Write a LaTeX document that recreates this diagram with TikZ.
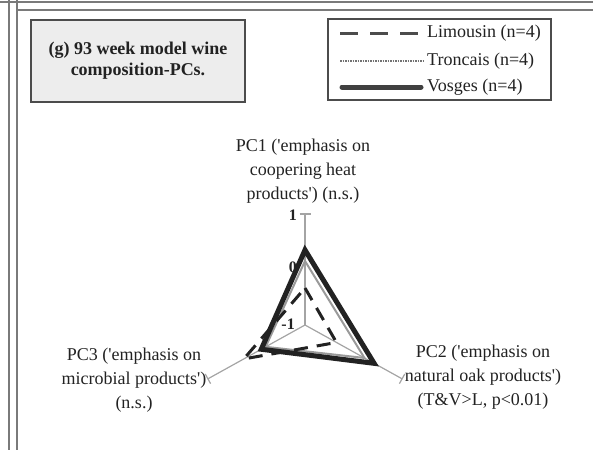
\documentclass[tikz,border=0pt]{standalone}
\usepackage{fontspec}
\setmainfont{Liberation Serif}
\usetikzlibrary{positioning,calc}
\definecolor{cfrm}{HTML}{7A7A7A}
\definecolor{cink}{HTML}{222222}
\definecolor{ctro}{HTML}{9A9A9A}
\definecolor{cbox}{HTML}{EDEDED}

\begin{document}
\begin{tikzpicture}[
  x=1pt, y=-1pt,
  font=\fontsize{18}{24}\selectfont,
  text=cink,
  frm/.style={draw=cfrm, line width=1.3pt},
  panel/.style={draw=black!70, line width=1.2pt, inner sep=0pt},
  lgtxt/.style={anchor=west, inner sep=0pt},
  pclab/.style={align=center, inner sep=0pt},
  tick/.style={font=\fontsize{16}{16}\selectfont\bfseries, inner sep=0pt},
  axis/.style={draw=ctro!90, line width=1.2pt},
  lim/.style={draw=cink, line width=3pt, dash pattern=on 14pt off 9pt},
  tro/.style={draw=ctro, line width=2pt},
  vos/.style={draw=cink, line width=5pt, line join=miter},
]
\useasboundingbox (0,0) rectangle (593,450);

% =================== frame ===================
\draw[frm] (9,0) -- (9,450);
\draw[frm] (17,0) -- (17,450);
\draw[frm] (0,2) -- (593,2);
\draw[frm] (17,10) -- (593,10);

% =================== title & legend ===================
\node[panel, fill=cbox, minimum width=214pt, minimum height=82pt, align=center,
  font=\fontsize{18}{21}\selectfont\bfseries] (ttl) at (138,61)
  {(g) 93 week model wine\\composition-PCs.};
\node[panel, fill=white, minimum width=223pt, minimum height=81pt] (lgd) at (439.5,59.5) {};
\node[lgtxt] (tlim) at (427,33) {Limousin (n=4)};
\node[lgtxt] (ttro) at (427,61) {Troncais (n=4)};
\node[lgtxt] (tvos) at (427,87) {Vosges (n=4)};
\draw[lim, draw=black!70, dash pattern=on 18pt off 12pt] (340,33) -- (418,33);
\draw[tro, draw=black!55, line width=1.6pt, dash pattern=on 1.5pt off 1pt] (340,61) -- (423,61);
\draw[vos, draw=black!75, line cap=round] (342,87) -- (421,87);

% =================== radar ===================
\begin{scope}[shift={(305,325)}, y=1pt]
  \coordinate (o) at (0,0);
  \foreach \a in {90,-29,209} {
    \draw[axis] (o) -- (\a:111);
    \draw[axis] (\a:111) ++(\a+90:5.5) -- ++(\a-90:11);
  }
  \node[tick, anchor=east] (v1) at (-8,110) {1};
  \node[tick, anchor=east] (v0) at (-8,58) {0};
  \node[tick, anchor=east] (vm1) at (-10,1) {-1};
  \draw[tro] (90:64) -- (-29:68) -- (209:45) -- cycle;
  \draw[lim] (90:37) -- (-29:36) -- (209:70) -- cycle;
  \draw[vos] (90:75) -- (-29:79) -- (209:50) -- cycle;
\end{scope}

\node[pclab] (l1) at (303,171) {PC1 (\textquotesingle emphasis on\\coopering heat\\products\textquotesingle) (n.s.)};
\node[pclab] (l3) at (134,380) {PC3 (\textquotesingle emphasis on\\microbial products\textquotesingle)\\(n.s.)};
\node[pclab] (l2) at (483,377) {PC2 (\textquotesingle emphasis on\\natural oak products\textquotesingle)\\(T\&V>L, p<0.01)};
\end{tikzpicture}
\end{document}
